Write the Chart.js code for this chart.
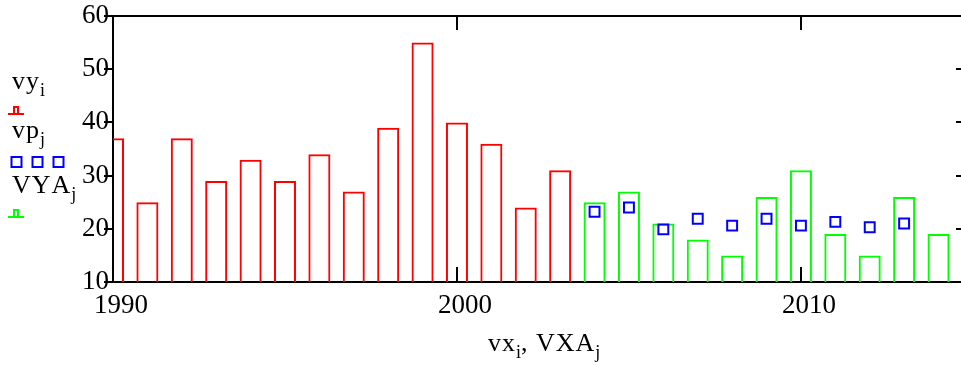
<!DOCTYPE html>
<html><head><meta charset="utf-8">
<script src="https://cdn.jsdelivr.net/npm/chart.js@4/dist/chart.umd.min.js"></script>
<style>
html,body{margin:0;padding:0;background:#fff;overflow:hidden;}
#wrap{position:relative;width:975px;height:365px;}
</style></head><body>
<div id="wrap"><canvas id="c" width="975" height="365"></canvas></div>
<script>
// ---- data ----
const vx = [1990,1991,1992,1993,1994,1995,1996,1997,1998,1999,2000,2001,2002,2003];
const vy = [37,25,37,29,33,29,34,27,39,55,40,36,24,31];
const VXA = [2004,2005,2006,2007,2008,2009,2010,2011,2012,2013,2014];
const VYA = [25,27,21,18,15,26,31,19,15,26,19];
const vpx = [2004,2005,2006,2007,2008,2009,2010,2011,2012,2013];
const vp = [23.2,24.0,19.9,21.9,20.6,21.9,20.6,21.3,20.3,21.0];
const xTickVals = [1990,2000,2010];
const yTickVals = [10,20,30,40,50,60];
const xMin = 1990, xMax = 2014.77, yMin = 10, yMax = 60;

const toXY = (xs, ys) => xs.map((x, i) => ({x: x, y: ys[i]}));
const FONT = '"Liberation Serif", "Times New Roman", serif';

function drawSub(ctx, x, y, main, sub) {
  ctx.font = '26px ' + FONT;
  let cx = x;
  for (const ch of main) {
    ctx.fillText(ch, cx, y);
    cx += ctx.measureText(ch).width + 1;
  }
  ctx.font = '18px ' + FONT;
  ctx.fillText(sub, cx, y + 7);
  return cx + ctx.measureText(sub).width;
}

const deco = {
  id: 'deco',
  afterDraw(chart) {
    const ctx = chart.ctx;
    const a = chart.chartArea;
    const xs = chart.scales.x, ys = chart.scales.y;
    ctx.save();
    ctx.strokeStyle = '#000';
    ctx.lineWidth = 2;
    // top and right border
    ctx.beginPath();
    ctx.moveTo(a.left, a.top); ctx.lineTo(a.right, a.top); ctx.lineTo(a.right, a.bottom);
    ctx.stroke();
    // inward ticks top/bottom
    xTickVals.forEach(v => {
      if (v <= xMin || v >= xMax) return;
      const px = Math.round(xs.getPixelForValue(v));
      ctx.beginPath();
      ctx.moveTo(px, a.top); ctx.lineTo(px, a.top + 14);
      ctx.moveTo(px, a.bottom); ctx.lineTo(px, a.bottom - 15);
      ctx.stroke();
    });
    // inward ticks right
    yTickVals.forEach(v => {
      if (v <= yMin || v >= yMax) return;
      const py = Math.round(ys.getPixelForValue(v));
      ctx.beginPath();
      ctx.moveTo(a.right, py); ctx.lineTo(a.right - 9, py);
      ctx.stroke();
    });
    // legend
    ctx.fillStyle = '#000';
    ctx.textBaseline = 'alphabetic';
    ctx.textAlign = 'left';
    drawSub(ctx, 12, 89, 'vy', 'i');
    drawSub(ctx, 12, 138, 'vp', 'j');
    drawSub(ctx, 12, 193, 'VYA', 'j');
    function barSym(base, color) {
      ctx.strokeStyle = color; ctx.lineWidth = 2;
      ctx.beginPath();
      ctx.moveTo(8, base); ctx.lineTo(24, base);
      ctx.moveTo(14, base); ctx.lineTo(14, base - 7); ctx.lineTo(18, base - 7); ctx.lineTo(18, base);
      ctx.stroke();
    }
    barSym(114, '#ff0000');
    barSym(217, '#00ff00');
    ctx.strokeStyle = '#0000ff'; ctx.lineWidth = 2;
    [16.5, 37.5, 58.5].forEach(cx => ctx.strokeRect(cx - 5, 157, 10, 10));
    // axis title
    ctx.fillStyle = '#000';
    let x = drawSub(ctx, 488, 351, 'vx', 'i');
    drawSub(ctx, x, 351, ', VXA', 'j');
    ctx.restore();
  }
};

new Chart(document.getElementById('c'), {
  type: 'bar',
  data: {
    datasets: [
      { label: 'vy', data: toXY(vx, vy), grouped: false,
        backgroundColor: 'rgba(0,0,0,0)', borderColor: '#ff0000', borderWidth: 2,
        barPercentage: 0.64, categoryPercentage: 1, order: 2 },
      { label: 'VYA', data: toXY(VXA, VYA), grouped: false,
        backgroundColor: 'rgba(0,0,0,0)', borderColor: '#00ff00', borderWidth: 2,
        barPercentage: 0.64, categoryPercentage: 1, order: 2 },
      { type: 'scatter', label: 'vp', data: toXY(vpx, vp),
        pointStyle: 'rect', pointRadius: 7, pointBorderWidth: 2,
        borderColor: '#0000ff', backgroundColor: 'rgba(0,0,0,0)',
        pointBackgroundColor: 'rgba(0,0,0,0)', pointBorderColor: '#0000ff', order: 1 }
    ]
  },
  options: {
    responsive: false,
    animation: false,
    devicePixelRatio: 1,
    layout: { padding: { left: 0, top: 16, right: 10, bottom: 0 } },
    plugins: { legend: { display: false }, tooltip: { enabled: false } },
    scales: {
      x: {
        type: 'linear', min: xMin, max: xMax, offset: false,
        afterBuildTicks: s => { s.ticks = xTickVals.map(v => ({value: v})); },
        afterFit: s => { s.height = 83; },
        grid: { display: true, drawOnChartArea: false, drawTicks: false, offset: false },
        border: { display: true, color: '#000', width: 2 },
        ticks: { color: '#000', font: { family: FONT, size: 27 }, padding: 8, labelOffset: 8,
                 maxRotation: 0, autoSkip: false, callback: v => String(v) }
      },
      y: {
        type: 'linear', min: yMin, max: yMax,
        afterBuildTicks: s => { s.ticks = yTickVals.map(v => ({value: v})); },
        afterFit: s => { s.width = 113; },
        grid: { display: true, drawOnChartArea: false, drawTicks: true, tickLength: 9, color: '#000', lineWidth: 2 },
        border: { display: true, color: '#000', width: 2 },
        ticks: { color: '#000', font: { family: FONT, size: 27 }, padding: -5, callback: v => String(v) }
      }
    }
  },
  plugins: [deco]
});
</script>
</body></html>
